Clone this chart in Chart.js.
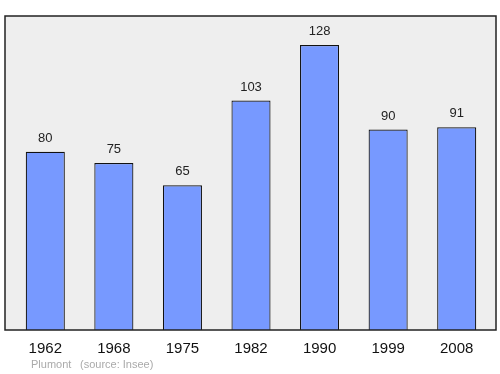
<!DOCTYPE html>
<html>
<head>
<meta charset="utf-8">
<script src="https://cdn.jsdelivr.net/npm/chart.js@4"></script>
<style>
  html, body { margin: 0; padding: 0; background: #fff; }
  #wrap { width: 500px; height: 374px; }
</style>
</head>
<body>
<div id="wrap"><canvas id="popChart" width="500" height="374"></canvas></div>
<script>
// population by census year
const years = ['1962', '1968', '1975', '1982', '1990', '1999', '2008'];
const population = [80, 75, 65, 103, 128, 90, 91];
const footerText = ['Plumont', '(source: Insee)'];

const FONT = '"Liberation Sans", Arial, sans-serif';

// grey plot background + frame, drawn a bit wider than the bar area
const frame = {
  id: 'frame',
  beforeDatasetsDraw(chart) {
    const { ctx, chartArea: a } = chart;
    ctx.save();
    ctx.fillStyle = '#eeeeee';
    ctx.fillRect(a.left - 6, a.top, a.right - a.left + 11, a.bottom - a.top);
    ctx.restore();
  },
  afterDatasetsDraw(chart) {
    const { ctx, chartArea: a } = chart;
    ctx.save();
    ctx.strokeStyle = '#222';
    ctx.lineWidth = 1.5;
    ctx.strokeRect(a.left - 6, a.top, a.right - a.left + 11, a.bottom - a.top);

    // value labels above bars
    ctx.fillStyle = '#222';
    ctx.font = '13px ' + FONT;
    ctx.textAlign = 'center';
    ctx.textBaseline = 'bottom';
    chart.getDatasetMeta(0).data.forEach((bar, i) => {
      ctx.fillText(population[i], bar.x, bar.y - 7);
    });

    // footer
    ctx.fillStyle = '#aaaaaa';
    ctx.font = '11px ' + FONT;
    ctx.textAlign = 'left';
    ctx.textBaseline = 'middle';
    ctx.fillText(footerText[0], 31, 365);
    ctx.fillText(footerText[1], 80, 365);
    ctx.restore();
  }
};

new Chart(document.getElementById('popChart'), {
  type: 'bar',
  data: {
    labels: years,
    datasets: [{
      data: population,
      backgroundColor: '#7799ff',
      borderColor: '#111',
      borderWidth: 1.2,
      barPercentage: 0.57,
      categoryPercentage: 1
    }]
  },
  options: {
    responsive: false,
    animation: false,
    layout: { padding: { left: 11, right: 9, top: 16, bottom: 14 } },
    plugins: { legend: { display: false }, tooltip: { enabled: false } },
    scales: {
      x: {
        grid: { display: false },
        border: { display: false },
        ticks: { color: '#111', font: { size: 15, family: FONT }, padding: 2 }
      },
      y: {
        display: false,
        min: 0,
        max: 141
      }
    }
  },
  plugins: [frame]
});
</script>
</body>
</html>
